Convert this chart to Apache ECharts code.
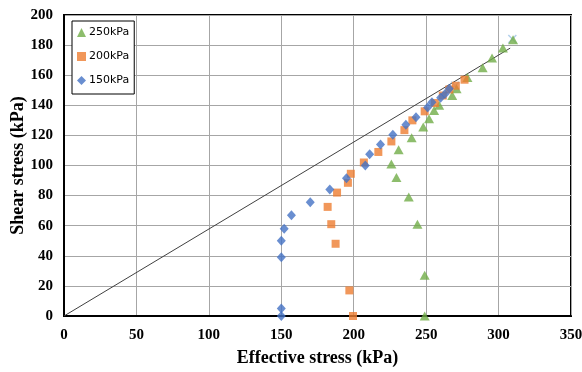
<!DOCTYPE html>
<html><head><meta charset="utf-8">
<script src="https://cdn.jsdelivr.net/npm/echarts@6/dist/echarts.min.js"></script>
<style>html,body{margin:0;padding:0;background:#fff}#c{width:582px;height:372px}</style>
</head><body><div id="c"></div>
<script>
const xTicks = [0, 50, 100, 150, 200, 250, 300, 350];
const yTicks = [0, 20, 40, 60, 80, 100, 120, 140, 160, 180, 200];
const seriesNames = ['250kPa', '200kPa', '150kPa'];

const s250x = [249, 249, 244, 238, 229.5, 226, 231, 240, 248, 252, 255.5, 259, 268, 271, 278.5, 289, 295.5, 303, 310];
const s250y = [0, 27, 61, 79, 92, 101, 110.5, 118.5, 125.5, 131, 136.5, 140, 146.5, 151, 158.5, 165, 171.5, 178, 183.5];

const s200x = [199.5, 197, 187.5, 184.5, 182, 188.5, 196, 198, 207, 217, 226, 235, 240.5, 249, 256, 261.5, 266, 270.5, 276.5];
const s200y = [0, 17, 48, 61, 72.5, 82, 88.5, 94.5, 102, 109, 116, 123.5, 130, 136, 141.5, 146.5, 150.5, 153, 157];

const s150x = [150, 150, 150, 150, 152, 157, 170, 183.5, 195, 208, 211, 218.5, 227, 236, 243, 251, 254, 260, 263, 266];
const s150y = [0, 5, 39, 50, 58, 67, 75.5, 84, 91.6, 100, 107.5, 114, 120.5, 127, 132, 138.6, 142, 145, 147.5, 151];

const extraX = [270, 309.5];
const extraY = [153, 184];

const lineX = [0, 308];
const lineY = [0, 178];

const zip = (a, b) => a.map((v, i) => [v, b[i]]);
const chart = echarts.init(document.getElementById('c'));
const serif = '"Liberation Serif", "Times New Roman", serif';
chart.setOption({
  animation: false,
  grid: { left: 64, right: 11, top: 15, bottom: 56, show: true, borderColor: '#000', borderWidth: 2,
    containLabel: false, outerBoundsMode: 'none' },
  xAxis: {
    type: 'value', min: 0, max: 350, interval: 50,
    name: 'Effective stress (kPa)', nameLocation: 'middle', nameGap: 33, nameMoveOverlap: false,
    nameTextStyle: { fontFamily: serif, fontWeight: 'bold', fontSize: 18, color: '#000' },
    axisLine: { lineStyle: { color: '#000', width: 2 } },
    axisTick: { show: false },
    axisLabel: { fontFamily: serif, fontWeight: 'bold', fontSize: 15, color: '#000', margin: 12,
      formatter: v => xTicks.includes(v) ? String(v) : '' },
    splitLine: { lineStyle: { color: '#a6a6a6', width: 1 } }
  },
  yAxis: {
    type: 'value', min: 0, max: 200, interval: 20,
    name: 'Shear stress (kPa)', nameLocation: 'middle', nameGap: 37, nameMoveOverlap: false,
    nameTextStyle: { fontFamily: serif, fontWeight: 'bold', fontSize: 18, color: '#000' },
    axisLine: { lineStyle: { color: '#000', width: 2 } },
    axisTick: { show: false },
    axisLabel: { fontFamily: serif, fontWeight: 'bold', fontSize: 15, color: '#000', margin: 11,
      formatter: v => yTicks.includes(v) ? String(v) : '' },
    splitLine: { lineStyle: { color: '#a6a6a6', width: 1 } }
  },
  legend: {
    orient: 'vertical', left: 72, top: 21, itemGap: 13, itemWidth: 9, itemHeight: 9,
    padding: [6, 5, 8, 5],
    backgroundColor: '#fff', borderColor: '#000', borderWidth: 1,
    textStyle: { fontFamily: '"DejaVu Sans", Verdana, sans-serif', fontSize: 11, color: '#000', padding: [0, 0, 0, -2] },
    data: seriesNames
  },
  series: [
    { type: 'line', data: zip(lineX, lineY), showSymbol: false, symbol: 'none',
      lineStyle: { color: '#404040', width: 1 }, silent: true, z: 1 },
    { name: 'extra', type: 'scatter', data: zip(extraX, extraY), symbol: 'path://M0,0L10,10M10,0L0,10',
      symbolSize: 8, itemStyle: { color: 'none', borderColor: '#9dc3e6', borderWidth: 1.5 }, z: 2 },
    { name: seriesNames[2], type: 'scatter', data: zip(s150x, s150y), symbol: 'diamond', symbolSize: [9, 10],
      itemStyle: { color: '#4472c4' }, z: 5 },
    { name: seriesNames[1], type: 'scatter', data: zip(s200x, s200y), symbol: 'rect', symbolSize: 8,
      itemStyle: { color: '#ed7d31' }, z: 4 },
    { name: seriesNames[0], type: 'scatter', data: zip(s250x, s250y), symbol: 'triangle', symbolSize: [10, 9],
      itemStyle: { color: '#70ad47' }, z: 3 }
  ]
});
</script></body></html>
